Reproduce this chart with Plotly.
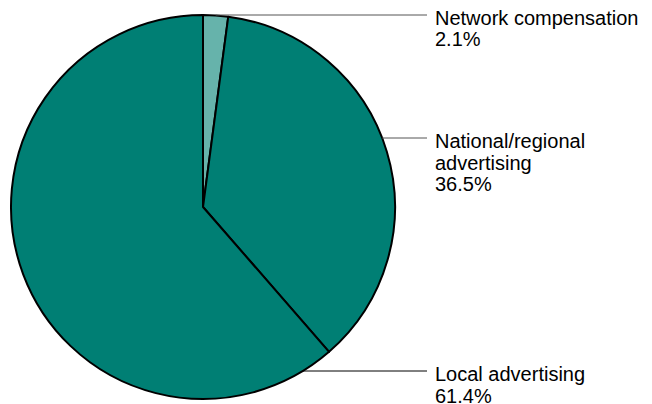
import math
import plotly.graph_objects as go

categories = ["Network compensation", "National/regional advertising", "Local advertising"]
values = [2.1, 36.5, 61.4]
label_lines = [["Network compensation", "2.1%"],
               ["National/regional", "advertising", "36.5%"],
               ["Local advertising", "61.4%"]]
colors = ["#66B3AB", "#007F74", "#007F74"]
leader_colors = ["#555555", "#555555", "#000000"]

W, H = 652, 404
cx, cy, r = 203, 207, 192          # pie geometry in pixels
label_y = [15, 138, 371]           # leader line y (pixels)
line_end_x = 427
text_x = 434
line_gap = 21.5

fig = go.Figure(go.Pie(
    labels=categories, values=values, sort=False, direction="clockwise",
    rotation=0, textinfo="none", hoverinfo="label+percent",
    marker=dict(colors=colors, line=dict(color="#000000", width=2)),
    domain=dict(x=[(cx - r) / W, (cx + r) / W], y=[1 - (cy + r) / H, 1 - (cy - r) / H]),
    showlegend=False,
))

shapes = []
annotations = []
for i, ly in enumerate(label_y):
    dy = ly - cy
    x0 = cx + math.sqrt(max(r * r - dy * dy, 0))
    if i == 0:
        x0 = cx + r * math.sin(math.radians(values[0] / 100 * 180))
    shapes.append(dict(type="line", xref="paper", yref="paper",
                       x0=x0 / W, x1=line_end_x / W, y0=1 - ly / H, y1=1 - ly / H,
                       line=dict(color=leader_colors[i], width=1)))
    for j, t in enumerate(label_lines[i]):
        yy = ly + 3 + j * line_gap
        annotations.append(dict(text=t, xref="paper", yref="paper",
                                x=text_x / W, y=1 - yy / H, xanchor="left", yanchor="middle",
                                showarrow=False, borderpad=0,
                                font=dict(family="Liberation Sans, Arial, sans-serif", size=20, color="#000000")))

fig.update_layout(width=W, height=H, margin=dict(l=0, r=0, t=0, b=0),
                  paper_bgcolor="white", plot_bgcolor="white",
                  shapes=shapes, annotations=annotations)
fig.write_html("out.html", config={"displayModeBar": False},
               post_script="document.body.style.margin='0';document.body.style.padding='0';document.body.style.overflow='hidden';")
